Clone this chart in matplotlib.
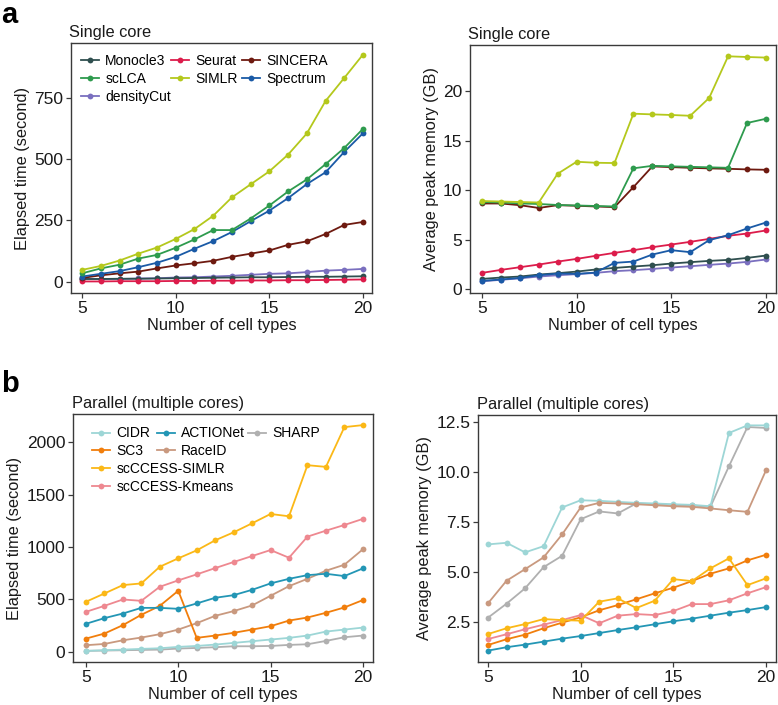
import matplotlib
matplotlib.use("Agg")
import matplotlib.pyplot as plt
from matplotlib.lines import Line2D
from matplotlib.legend import Legend

plt.rcParams['font.family'] = ['Liberation Sans', 'DejaVu Sans']

cell_types = list(range(5, 21))

# ---- Panel a: single core, elapsed time (s) ----
time_monocle3 = [12, 12, 13, 13, 14, 15, 16, 17, 18, 19, 19, 20, 21, 21, 22, 23]
time_seurat = [2, 2, 3, 3, 3, 4, 4, 5, 5, 6, 6, 7, 7, 8, 9, 10]
time_sincera = [16, 27, 35, 42, 55, 67, 76, 86, 102, 115, 128, 151, 165, 195, 232, 244]
time_sclca = [35, 55, 70, 95, 110, 139, 173, 211, 211, 258, 311, 368, 417, 479, 545, 623]
time_simlr = [49, 65, 87, 115, 140, 175, 215, 269, 344, 397, 450, 518, 604, 736, 830, 925]
time_spectrum = [22, 33, 44, 60, 78, 102, 135, 166, 203, 247, 290, 341, 398, 446, 529, 605]
time_densitycut = [12, 12, 12, 14, 15, 18, 19, 22, 25, 29, 33, 35, 40, 46, 49, 53]

# ---- Panel a: single core, memory (GB) ----
mem_monocle3 = [1.04, 1.18, 1.28, 1.48, 1.62, 1.78, 1.99, 2.15, 2.29, 2.42, 2.59, 2.73, 2.86, 2.96, 3.16, 3.40]
mem_seurat = [1.65, 1.95, 2.22, 2.49, 2.79, 3.06, 3.37, 3.67, 3.94, 4.24, 4.51, 4.78, 5.08, 5.39, 5.62, 5.93]
mem_sincera = [8.65, 8.65, 8.48, 8.20, 8.48, 8.42, 8.35, 8.28, 10.30, 12.39, 12.32, 12.25, 12.19, 12.15, 12.09, 12.05]
mem_sclca = [8.80, 8.75, 8.65, 8.60, 8.50, 8.45, 8.40, 8.35, 12.20, 12.45, 12.40, 12.35, 12.30, 12.25, 16.77, 17.20]
mem_simlr = [8.90, 8.85, 8.80, 8.75, 11.65, 12.86, 12.76, 12.73, 17.71, 17.64, 17.58, 17.50, 19.30, 23.50, 23.43, 23.37]
mem_spectrum = [0.84, 0.98, 1.14, 1.41, 1.58, 1.55, 1.68, 2.66, 2.79, 3.50, 3.94, 3.74, 4.95, 5.45, 6.13, 6.73]
mem_densitycut = [0.80, 0.95, 1.10, 1.28, 1.41, 1.52, 1.65, 1.82, 1.92, 2.05, 2.19, 2.32, 2.46, 2.59, 2.76, 3.00]

# ---- Panel b: parallel, elapsed time (s) ----
ptime_cidr = [10, 16, 22, 29, 35, 48, 57, 70, 86, 102, 118, 134, 156, 194, 213, 232]
ptime_sc3 = [127, 175, 255, 354, 439, 583, 134, 156, 182, 213, 245, 299, 328, 373, 424, 494]
ptime_scc_simlr = [478, 557, 637, 653, 812, 892, 968, 1064, 1140, 1226, 1315, 1293, 1780, 1764, 2143, 2162]
ptime_scc_kmeans = [382, 439, 500, 487, 621, 682, 739, 799, 857, 914, 971, 898, 1099, 1156, 1210, 1268]
ptime_actionet = [268, 322, 366, 420, 420, 411, 462, 516, 541, 592, 653, 697, 732, 745, 723, 796]
ptime_raceid = [64, 76, 111, 137, 169, 213, 274, 344, 389, 443, 535, 627, 697, 774, 831, 978]
ptime_sharp = [10, 13, 16, 19, 22, 32, 38, 45, 54, 54, 57, 67, 73, 105, 140, 156]

# ---- Panel b: parallel, memory (GB) ----
pmem_cidr = [6.37, 6.45, 5.97, 6.28, 8.22, 8.58, 8.55, 8.50, 8.45, 8.42, 8.38, 8.35, 8.28, 11.95, 12.33, 12.33]
pmem_sc3 = [1.33, 1.62, 1.85, 2.17, 2.45, 2.72, 3.07, 3.33, 3.62, 3.92, 4.20, 4.53, 4.90, 5.17, 5.57, 5.85]
pmem_scc_simlr = [1.88, 2.17, 2.38, 2.63, 2.58, 2.55, 3.50, 3.67, 3.18, 3.55, 4.63, 4.53, 5.17, 5.67, 4.33, 4.67]
pmem_scc_kmeans = [1.63, 1.87, 2.12, 2.35, 2.58, 2.83, 2.42, 2.80, 2.88, 2.83, 3.03, 3.38, 3.38, 3.57, 3.92, 4.23]
pmem_actionet = [1.05, 1.22, 1.35, 1.50, 1.65, 1.78, 1.93, 2.08, 2.22, 2.37, 2.52, 2.65, 2.80, 2.95, 3.08, 3.23]
pmem_raceid = [3.42, 4.55, 5.13, 5.72, 6.87, 8.22, 8.45, 8.42, 8.38, 8.33, 8.28, 8.25, 8.17, 8.08, 8.00, 10.08]
pmem_sharp = [2.70, 3.40, 4.17, 5.23, 5.80, 7.63, 8.02, 7.92, 8.42, 8.38, 8.35, 8.32, 8.25, 10.28, 12.25, 12.20]

methods_a = ['Monocle3', 'Seurat', 'SINCERA', 'scLCA', 'SIMLR', 'Spectrum', 'densityCut']
colors_a = {'Monocle3': '#2F4F4F', 'Seurat': '#DC1C4B', 'SINCERA': '#6E1A10',
            'scLCA': '#2E9B4E', 'SIMLR': '#B4C81C', 'Spectrum': '#1A5AA6',
            'densityCut': '#7A6FBF'}
time_a = {'Monocle3': time_monocle3, 'Seurat': time_seurat, 'SINCERA': time_sincera,
          'scLCA': time_sclca, 'SIMLR': time_simlr, 'Spectrum': time_spectrum,
          'densityCut': time_densitycut}
mem_a = {'Monocle3': mem_monocle3, 'Seurat': mem_seurat, 'SINCERA': mem_sincera,
         'scLCA': mem_sclca, 'SIMLR': mem_simlr, 'Spectrum': mem_spectrum,
         'densityCut': mem_densitycut}
draw_order_a = ['densityCut', 'Monocle3', 'Seurat', 'SINCERA', 'Spectrum', 'scLCA', 'SIMLR']

methods_b = ['CIDR', 'ACTIONet', 'SHARP', 'SC3', 'RaceID', 'scCCESS-SIMLR', 'scCCESS-Kmeans']
colors_b = {'CIDR': '#9DD6D6', 'ACTIONet': '#2396B5', 'SHARP': '#B0B0B0',
            'SC3': '#F17E0C', 'RaceID': '#C9997F', 'scCCESS-SIMLR': '#FBB817',
            'scCCESS-Kmeans': '#EE8890'}
time_b = {'CIDR': ptime_cidr, 'ACTIONet': ptime_actionet, 'SHARP': ptime_sharp,
          'SC3': ptime_sc3, 'RaceID': ptime_raceid, 'scCCESS-SIMLR': ptime_scc_simlr,
          'scCCESS-Kmeans': ptime_scc_kmeans}
mem_b = {'CIDR': pmem_cidr, 'ACTIONet': pmem_actionet, 'SHARP': pmem_sharp,
         'SC3': pmem_sc3, 'RaceID': pmem_raceid, 'scCCESS-SIMLR': pmem_scc_simlr,
         'scCCESS-Kmeans': pmem_scc_kmeans}
draw_order_b = ['SHARP', 'CIDR', 'RaceID', 'SC3', 'ACTIONet', 'scCCESS-Kmeans', 'scCCESS-SIMLR']

W, H = 778, 705
fig = plt.figure(figsize=(W / 100, H / 100), dpi=100)


def axes_px(left, top, right, bottom):
    return fig.add_axes([left / W, (H - bottom) / H, (right - left) / W, (bottom - top) / H])


def style(ax, xlabel, ylabel, title):
    for s in ax.spines.values():
        s.set_color('#3a3a3a')
        s.set_linewidth(1.0)
    ax.tick_params(direction='out', length=3.5, width=0.9, color='#3a3a3a',
                   labelsize=12.5, labelcolor='#1a1a1a', pad=2)
    ax.set_xlabel(xlabel, fontsize=11.8, color='#1a1a1a', labelpad=2)
    ax.set_ylabel(ylabel, fontsize=11.8, color='#1a1a1a', labelpad=3)
    ax.set_title(title, fontsize=11.8, loc='left', pad=4, x=-0.005, color='#1a1a1a')
    ax.set_xticks([5, 10, 15, 20])


def draw(ax, order, data, colors):
    for m in order:
        ax.plot(cell_types, data[m], color=colors[m], lw=1.3, marker='o', ms=4.2,
                markeredgewidth=0, label=m)


def legend_col(ax, names, colors, x, y):
    handles = [Line2D([], [], color=colors[n], lw=1.3, marker='o', ms=4.2, markeredgewidth=0)
               for n in names]
    lg = Legend(ax, handles, names, loc='upper left', bbox_to_anchor=(x, y), frameon=False,
                fontsize=10, handlelength=1.3, handletextpad=0.45, labelspacing=0.28,
                borderpad=0, borderaxespad=0)
    ax.add_artist(lg)


# a-left
ax1 = axes_px(71, 43, 372, 293)
draw(ax1, draw_order_a, time_a, colors_a)
ax1.set_xlim(4.41, 20.48)
ax1.set_ylim(-45, 972)
ax1.set_yticks([0, 250, 500, 750])
style(ax1, 'Number of cell types', 'Elapsed time (second)', 'Single core')
legend_col(ax1, ['Monocle3', 'scLCA', 'densityCut'], colors_a, 0.033, 0.955)
legend_col(ax1, ['Seurat', 'SIMLR'], colors_a, 0.332, 0.955)
legend_col(ax1, ['SINCERA', 'Spectrum'], colors_a, 0.568, 0.955)

# a-right
ax2 = axes_px(470, 45, 776, 293)
draw(ax2, draw_order_a, mem_a, colors_a)
ax2.set_xlim(4.37, 20.53)
ax2.set_ylim(-0.38, 24.64)
ax2.set_yticks([0, 5, 10, 15, 20])
style(ax2, 'Number of cell types', 'Average peak memory (GB)', 'Single core')

# b-left
ax3 = axes_px(73, 414, 373, 662)
draw(ax3, draw_order_b, time_b, colors_b)
ax3.set_xlim(4.3, 20.55)
ax3.set_ylim(-96, 2268)
ax3.set_yticks([0, 500, 1000, 1500, 2000])
style(ax3, 'Number of cell types', 'Elapsed time (second)', 'Parallel (multiple cores)')
legend_col(ax3, ['CIDR', 'SC3', 'scCCESS-SIMLR', 'scCCESS-Kmeans'], colors_b, 0.063, 0.95)
legend_col(ax3, ['ACTIONet', 'RaceID'], colors_b, 0.28, 0.95)
legend_col(ax3, ['SHARP'], colors_b, 0.583, 0.95)

# b-right
ax4 = axes_px(478, 415, 776, 662)
draw(ax4, draw_order_b, mem_b, colors_b)
ax4.set_xlim(4.46, 20.54)
ax4.set_ylim(0.48, 12.85)
ax4.set_yticks([2.5, 5.0, 7.5, 10.0, 12.5])
ax4.set_yticklabels(['2.5', '5.0', '7.5', '10.0', '12.5'])
style(ax4, 'Number of cell types', 'Average peak memory (GB)', 'Parallel (multiple cores)')

fig.text(1 / W, 1 - 23 / H, 'a', fontsize=21, fontweight='bold', va='baseline', ha='left')
fig.text(1 / W, 1 - 392 / H, 'b', fontsize=21, fontweight='bold', va='baseline', ha='left')

fig.savefig('out.png', dpi=100)
